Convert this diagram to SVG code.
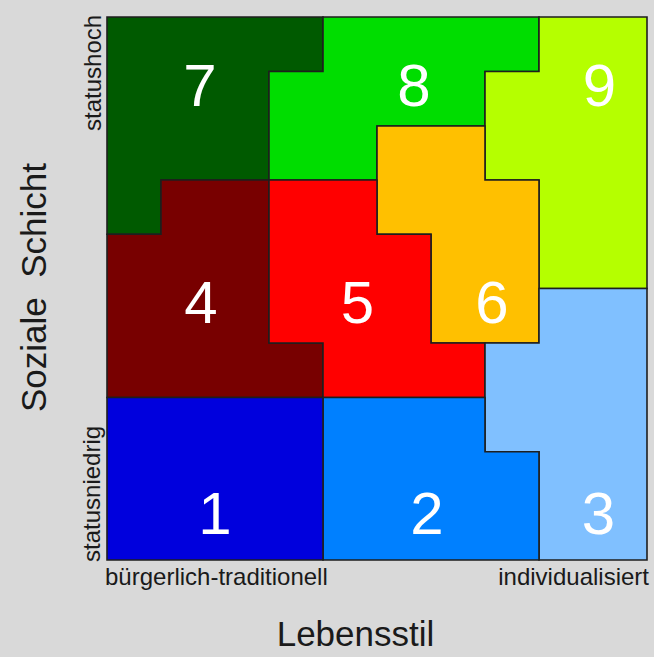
<svg xmlns="http://www.w3.org/2000/svg" width="654" height="657" viewBox="0 0 654 657">
<style>
.r{stroke:#1e1e1e;stroke-width:1.6;stroke-linejoin:miter}
.n{font-family:"Liberation Sans",Arial,sans-serif;font-size:60px;fill:#ffffff;text-anchor:middle}
.l{font-family:"Liberation Sans",Arial,sans-serif;font-size:24px;fill:#1a1a1a}
.t{font-family:"Liberation Sans",Arial,sans-serif;font-size:35px;fill:#1a1a1a;text-anchor:middle}
</style>
<rect width="654" height="657" fill="#d9d9d9"/>
<g id="region7"><polygon class="r" fill="#005a00" points="107,17 323,17 323,71.5 269,71.5 269,180 161,180 161,234.3 107,234.3"/><text class="n" x="200" y="106">7</text></g>
<g id="region8"><polygon class="r" fill="#00dd00" points="323,17 539,17 539,71.5 485,71.5 485,126 377,126 377,180 269,180 269,71.5 323,71.5"/><text class="n" x="414" y="106">8</text></g>
<g id="region9"><polygon class="r" fill="#b5ff00" points="539,17 647,17 647,288.5 539,288.5 539,180 485,180 485,71.5 539,71.5"/><text class="n" x="599.5" y="106">9</text></g>
<g id="region6"><polygon class="r" fill="#ffc000" points="377,126 485,126 485,180 539,180 539,343 431,343 431,234.3 377,234.3"/><text class="n" x="492" y="323">6</text></g>
<g id="region4"><polygon class="r" fill="#780000" points="161,180 269,180 269,343 323,343 323,397.5 107,397.5 107,234.3 161,234.3"/><text class="n" x="201" y="323">4</text></g>
<g id="region5"><polygon class="r" fill="#ff0000" points="269,180 377,180 377,234.3 431,234.3 431,343 485,343 485,397.5 323,397.5 323,343 269,343"/><text class="n" x="357.5" y="323">5</text></g>
<g id="region3"><polygon class="r" fill="#80c0ff" points="539,288.5 647,288.5 647,560 539,560 539,451.7 485,451.7 485,343 539,343"/><text class="n" x="598.5" y="534">3</text></g>
<g id="region2"><polygon class="r" fill="#0080ff" points="323,397.5 485,397.5 485,451.7 539,451.7 539,560 323,560"/><text class="n" x="427" y="534">2</text></g>
<g id="region1"><polygon class="r" fill="#0000dd" points="107,397.5 323,397.5 323,560 107,560"/><text class="n" x="215" y="534">1</text></g>
<g id="connectors"></g>
<g id="labels">
<text class="l" transform="translate(101,131) rotate(-90)">statushoch</text>
<text class="l" transform="translate(100,562) rotate(-90)">statusniedrig</text>
<text class="l" x="105" y="585">bürgerlich-traditionell</text>
<text class="l" x="649" y="585" text-anchor="end">individualisiert</text>
<text class="t" x="355.5" y="646">Lebensstil</text>
<text class="t" transform="translate(46,287.5) rotate(-90)" xml:space="preserve">Soziale  Schicht</text>
</g>
</svg>
